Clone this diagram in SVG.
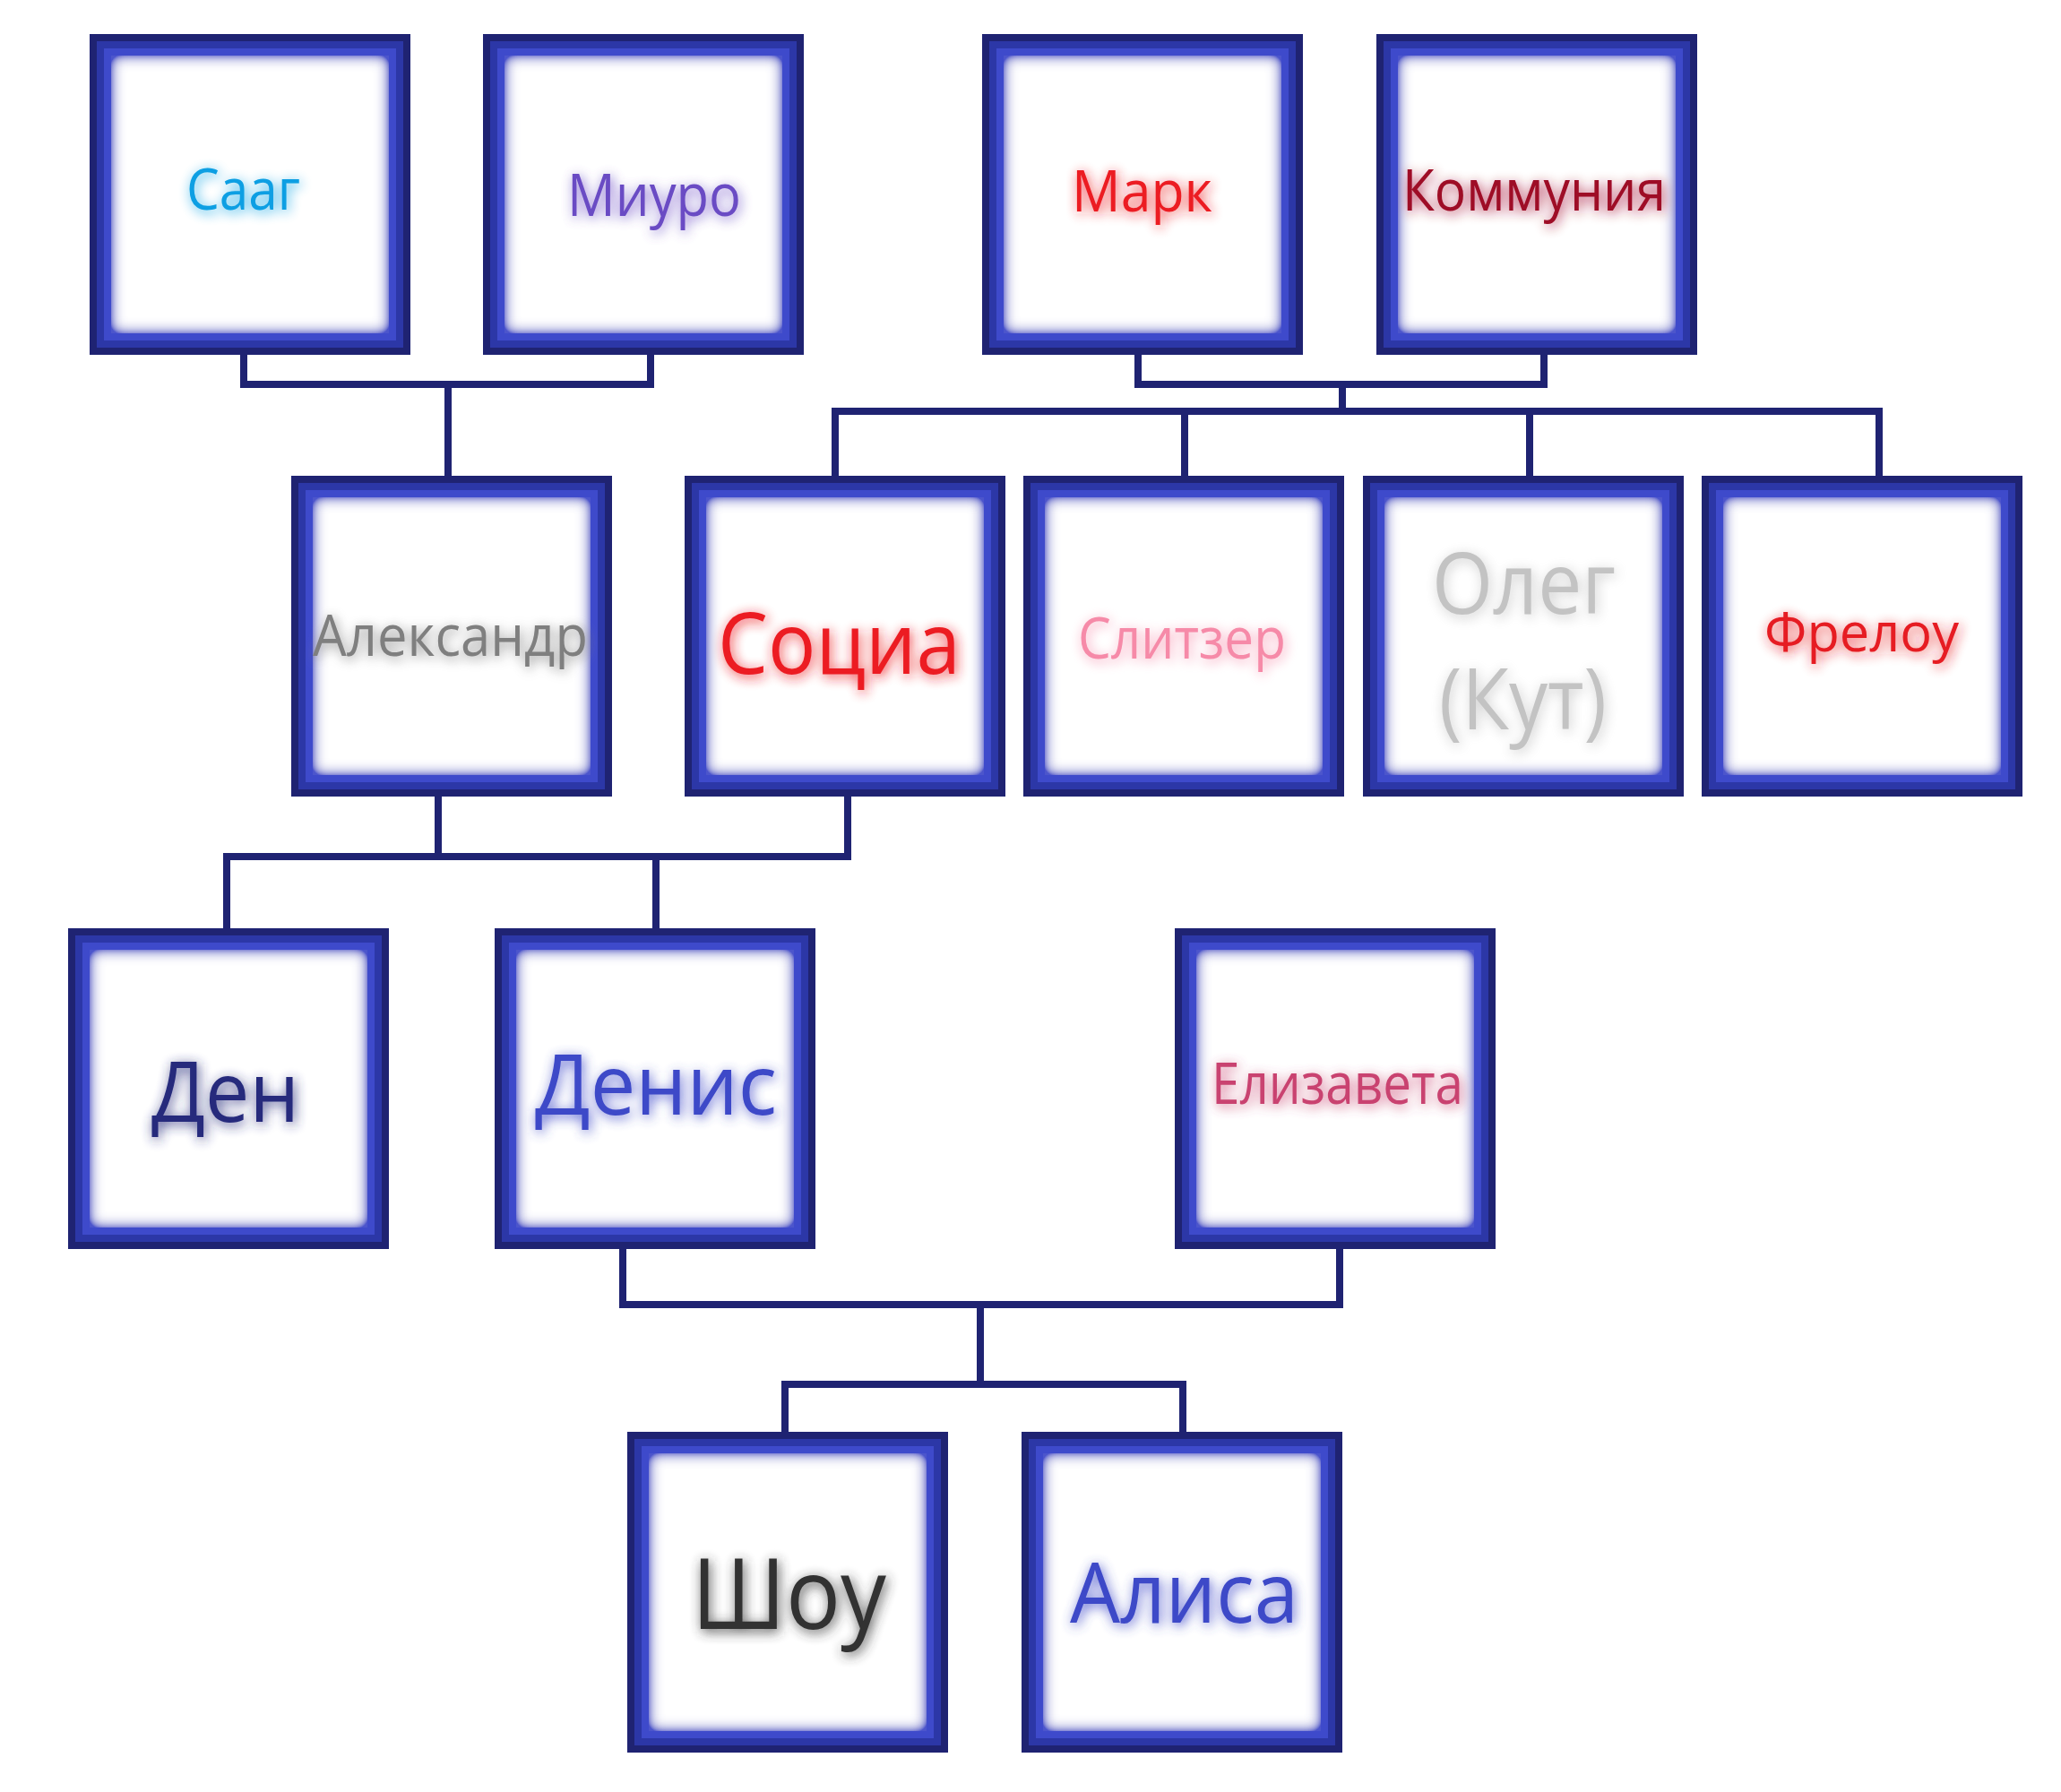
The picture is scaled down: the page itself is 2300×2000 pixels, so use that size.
<svg xmlns="http://www.w3.org/2000/svg" xmlns:xlink="http://www.w3.org/1999/xlink" width="2300" height="2000" viewBox="0 0 2300 2000">
<style>
.ln{fill:none;stroke:#1f2372;stroke-width:8;stroke-linejoin:miter;stroke-linecap:square}
.t{font-family:"Open Sans","Noto Sans","DejaVu Sans",sans-serif;filter:url(#tg)}
</style>
<defs>
<filter id="ig" x="-10%" y="-10%" width="120%" height="120%">
<feFlood flood-color="#4c55cc"/>
<feComposite in2="SourceAlpha" operator="out"/>
<feGaussianBlur stdDeviation="8"/>
<feComponentTransfer><feFuncA type="linear" slope="1.7"/></feComponentTransfer>
<feComposite in2="SourceAlpha" operator="in" result="g"/>
<feMerge><feMergeNode in="SourceGraphic"/><feMergeNode in="g"/></feMerge>
</filter>
<filter id="tg" x="-20%" y="-50%" width="140%" height="200%">
<feGaussianBlur in="SourceGraphic" stdDeviation="7"/>
<feOffset dx="2" dy="3"/>
<feComponentTransfer result="b"><feFuncA type="linear" slope="0.9"/></feComponentTransfer>
<feMerge><feMergeNode in="b"/><feMergeNode in="SourceGraphic"/></feMerge>
</filter>
<g id="box">
<rect width="358" height="358" fill="#1f2372"/>
<rect x="8" y="8" width="342" height="342" fill="#2c37a7"/>
<rect x="16" y="16" width="326" height="326" fill="#3e4acb"/>
<rect x="24" y="24" width="310" height="310" fill="#ffffff" filter="url(#ig)"/>
</g>
</defs>
<rect width="2300" height="2000" fill="#ffffff"/>
<g id="connectors">
<path class="ln" d="M272,397 V429 H726 V397"/>
<path class="ln" d="M500,429 V531"/>
<path class="ln" d="M1270,396 V429 H1723 V396"/>
<path class="ln" d="M1498,429 V459"/>
<path class="ln" d="M932,531 V459 H2097 V531"/>
<path class="ln" d="M1322,459 V531"/>
<path class="ln" d="M1707,459 V531"/>
<path class="ln" d="M253,1036 V956 H946 V889"/>
<path class="ln" d="M489,889 V956"/>
<path class="ln" d="M732,956 V1036"/>
<path class="ln" d="M695,1394 V1456 H1495 V1394"/>
<path class="ln" d="M1094,1456 V1545"/>
<path class="ln" d="M876,1598 V1545 H1320 V1598"/>
</g>
<g id="node-saag"><use xlink:href="#box" x="100" y="38"/><text class="t" x="208" y="234" font-size="64" fill="#0d9fe3" textLength="127" lengthAdjust="spacingAndGlyphs">Сааг</text></g>
<g id="node-miuro"><use xlink:href="#box" x="539" y="38"/><text class="t" x="633" y="241" font-size="65" fill="#6a4cc4" textLength="194" lengthAdjust="spacingAndGlyphs">Миуро</text></g>
<g id="node-mark"><use xlink:href="#box" x="1096" y="38"/><text class="t" x="1196" y="236" font-size="64" fill="#ec1c24" textLength="157" lengthAdjust="spacingAndGlyphs">Марк</text></g>
<g id="node-kommunia"><use xlink:href="#box" x="1536" y="38"/><text class="t" x="1565" y="235" font-size="64" fill="#9e0b26" textLength="294" lengthAdjust="spacingAndGlyphs">Коммуния</text></g>
<g id="node-aleksandr"><use xlink:href="#box" x="325" y="531"/><text class="t" x="349" y="732" font-size="64" fill="#7f7f7f" textLength="307" lengthAdjust="spacingAndGlyphs">Александр</text></g>
<g id="node-socia"><use xlink:href="#box" x="764" y="531"/><text class="t" x="801" y="752" font-size="95" fill="#ec1c24" textLength="271" lengthAdjust="spacingAndGlyphs">Социа</text></g>
<g id="node-slitzer"><use xlink:href="#box" x="1142" y="531"/><text class="t" x="1203" y="735" font-size="64" fill="#f68aa8" textLength="232" lengthAdjust="spacingAndGlyphs">Слитзер</text></g>
<g id="node-oleg"><use xlink:href="#box" x="1521" y="531"/><text class="t" font-size="96" fill="#c3c3c3"><tspan x="1598" y="685" textLength="205" lengthAdjust="spacingAndGlyphs">Олег</tspan><tspan x="1606" y="814" textLength="187" lengthAdjust="spacingAndGlyphs">(Кут)</tspan></text></g>
<g id="node-frelou"><use xlink:href="#box" x="1899" y="531"/><text class="t" x="1969" y="727" font-size="61" fill="#e61c24" textLength="217" lengthAdjust="spacingAndGlyphs">Фрелоу</text></g>
<g id="node-den"><use xlink:href="#box" x="76" y="1036"/><text class="t" x="169" y="1252" font-size="94" fill="#252a7c" textLength="165" lengthAdjust="spacingAndGlyphs">Ден</text></g>
<g id="node-denis"><use xlink:href="#box" x="552" y="1036"/><text class="t" x="597" y="1244" font-size="93" fill="#3d48c8" textLength="270" lengthAdjust="spacingAndGlyphs">Денис</text></g>
<g id="node-elizaveta"><use xlink:href="#box" x="1311" y="1036"/><text class="t" x="1352" y="1232" font-size="64" fill="#c9436f" textLength="281" lengthAdjust="spacingAndGlyphs">Елизавета</text></g>
<g id="node-shou"><use xlink:href="#box" x="700" y="1598"/><text class="t" x="772" y="1818" font-size="110" fill="#333333" textLength="217" lengthAdjust="spacingAndGlyphs">Шоу</text></g>
<g id="node-alisa"><use xlink:href="#box" x="1140" y="1598"/><text class="t" x="1194" y="1811" font-size="94" fill="#3d48c8" textLength="255" lengthAdjust="spacingAndGlyphs">Алиса</text></g>
</svg>
